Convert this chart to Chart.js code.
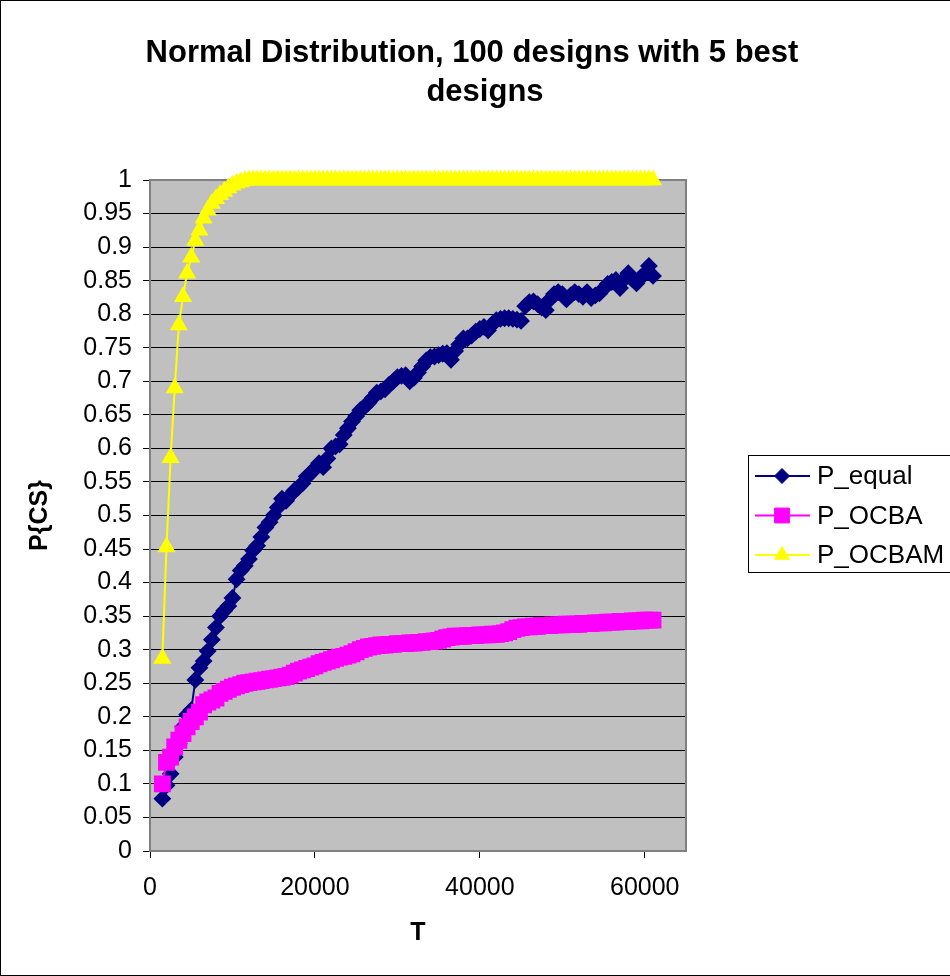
<!DOCTYPE html>
<html>
<head>
<meta charset="utf-8">
<title>Normal Distribution, 100 designs with 5 best designs</title>
<script src="https://cdn.jsdelivr.net/npm/chart.js@4.4.1/dist/chart.umd.min.js"></script>
<style>
  html, body { margin: 0; padding: 0; background: #fff; }
  #wrap { width: 950px; height: 976px; }
</style>
</head>
<body>
<div id="wrap"><canvas id="pcsChart" width="950" height="976"></canvas></div>
<script>
const titleLines = ['Normal Distribution, 100 designs with 5 best', 'designs'];

// simulation budget T
const tValues = [
    1500, 2000, 2500, 3000, 3500, 4000, 4500, 5000, 5500, 6000,
    6500, 7000, 7500, 8000, 8500, 9000, 9500, 10000, 10500, 11000,
    11500, 12000, 12500, 13000, 13500, 14000, 14500, 15000, 15500, 16000,
    16500, 17000, 17500, 18000, 18500, 19000, 19500, 20000, 20500, 21000,
    21500, 22000, 22500, 23000, 23500, 24000, 24500, 25000, 25500, 26000,
    26500, 27000, 27500, 28000, 28500, 29000, 29500, 30000, 30500, 31000,
    31500, 32000, 32500, 33000, 33500, 34000, 34500, 35000, 35500, 36000,
    36500, 37000, 37500, 38000, 38500, 39000, 39500, 40000, 40500, 41000,
    41500, 42000, 42500, 43000, 43500, 44000, 44500, 45000, 45500, 46000,
    46500, 47000, 47500, 48000, 48500, 49000, 49500, 50000, 50500, 51000,
    51500, 52000, 52500, 53000, 53500, 54000, 54500, 55000, 55500, 56000,
    56500, 57000, 57500, 58000, 58500, 59000, 59500, 60000, 60500, 61000
];

const pEqual = [
    0.078, 0.098, 0.115, 0.140, 0.160, 0.185, 0.203, 0.210, 0.255, 0.273,
    0.283, 0.298, 0.315, 0.333, 0.350, 0.358, 0.365, 0.377, 0.405, 0.418,
    0.425, 0.435, 0.448, 0.455, 0.468, 0.482, 0.490, 0.500, 0.512, 0.525,
    0.522, 0.530, 0.537, 0.542, 0.548, 0.558, 0.563, 0.570, 0.578, 0.572,
    0.585, 0.600, 0.603, 0.606, 0.620, 0.630, 0.640, 0.648, 0.657, 0.662,
    0.668, 0.675, 0.683, 0.685, 0.688, 0.695, 0.700, 0.706, 0.708, 0.709,
    0.700, 0.705, 0.713, 0.722, 0.731, 0.736, 0.737, 0.739, 0.741, 0.742,
    0.732, 0.745, 0.755, 0.764, 0.764, 0.768, 0.774, 0.778, 0.781, 0.776,
    0.785, 0.791, 0.793, 0.794, 0.794, 0.793, 0.792, 0.790, 0.812, 0.818,
    0.819, 0.815, 0.810, 0.806, 0.822, 0.830, 0.833, 0.830, 0.822, 0.828,
    0.833, 0.830, 0.826, 0.833, 0.824, 0.828, 0.831, 0.838, 0.845, 0.848,
    0.851, 0.839, 0.852, 0.861, 0.852, 0.846, 0.855, 0.860, 0.872, 0.857
];

const pOCBA = [
    0.100, 0.132, 0.140, 0.155, 0.165, 0.175, 0.185, 0.193, 0.200, 0.207,
    0.218, 0.222, 0.225, 0.228, 0.235, 0.238, 0.241, 0.244, 0.246, 0.248,
    0.250, 0.251, 0.252, 0.253, 0.254, 0.255, 0.256, 0.257, 0.258, 0.259,
    0.260, 0.262, 0.265, 0.268, 0.270, 0.272, 0.274, 0.276, 0.279, 0.281,
    0.283, 0.285, 0.287, 0.289, 0.290, 0.292, 0.294, 0.297, 0.300, 0.302,
    0.304, 0.305, 0.306, 0.307, 0.307, 0.308, 0.308, 0.309, 0.309, 0.309,
    0.310, 0.310, 0.311, 0.311, 0.312, 0.312, 0.313, 0.314, 0.316, 0.318,
    0.319, 0.320, 0.320, 0.320, 0.321, 0.321, 0.321, 0.322, 0.322, 0.322,
    0.323, 0.323, 0.324, 0.325, 0.327, 0.330, 0.332, 0.333, 0.334, 0.334,
    0.335, 0.335, 0.336, 0.336, 0.336, 0.337, 0.337, 0.337, 0.338, 0.338,
    0.338, 0.338, 0.339, 0.339, 0.339, 0.340, 0.340, 0.340, 0.341, 0.341,
    0.341, 0.342, 0.342, 0.342, 0.343, 0.343, 0.343, 0.344, 0.344, 0.344
];

const pOCBAM = [
    0.287, 0.453, 0.586, 0.690, 0.784, 0.826, 0.861, 0.885, 0.910, 0.925,
    0.943, 0.955, 0.965, 0.972, 0.978, 0.983, 0.988, 0.992, 0.995, 0.997,
    0.999, 1, 1, 1, 1, 1, 1, 1, 1, 1,
    1, 1, 1, 1, 1, 1, 1, 1, 1, 1,
    1, 1, 1, 1, 1, 1, 1, 1, 1, 1,
    1, 1, 1, 1, 1, 1, 1, 1, 1, 1,
    1, 1, 1, 1, 1, 1, 1, 1, 1, 1,
    1, 1, 1, 1, 1, 1, 1, 1, 1, 1,
    1, 1, 1, 1, 1, 1, 1, 1, 1, 1,
    1, 1, 1, 1, 1, 1, 1, 1, 1, 1,
    1, 1, 1, 1, 1, 1, 1, 1, 1, 1,
    1, 1, 1, 1, 1, 1, 1, 1, 1, 1
];

const xTicks = [0, 20000, 40000, 60000];
const yTicks = [0, 0.05, 0.1, 0.15, 0.2, 0.25, 0.3, 0.35, 0.4, 0.45, 0.5,
    0.55, 0.6, 0.65, 0.7, 0.75, 0.8, 0.85, 0.9, 0.95, 1];

const toPoints = values => tValues.map((t, i) => ({ x: t, y: values[i] }));

Chart.defaults.font.family = '"Liberation Sans", Arial, sans-serif';
Chart.defaults.color = '#000';

// grey plot area, its frame, the title, the boxed legend and the outer border
const excelLook = {
    id: 'excelLook',
    beforeDraw(chart) {
        const { ctx, chartArea: a } = chart;
        ctx.save();
        ctx.fillStyle = '#fff';
        ctx.fillRect(0, 0, chart.width, chart.height);
        ctx.fillStyle = '#C0C0C0';
        ctx.fillRect(a.left, a.top, a.right - a.left, a.bottom - a.top);
        ctx.restore();
    },
    beforeDatasetsDraw(chart) {
        const { ctx, chartArea: a } = chart;
        ctx.save();
        ctx.strokeStyle = '#808080';
        ctx.lineWidth = 2;
        ctx.strokeRect(a.left, a.top, a.right - a.left, a.bottom - a.top);
        ctx.restore();
    },
    afterDraw(chart) {
        const ctx = chart.ctx;
        ctx.save();

        // title (second line sits a little right, as in the original)
        ctx.fillStyle = '#000';
        ctx.textAlign = 'center';
        ctx.textBaseline = 'middle';
        ctx.font = 'bold 31px "Liberation Sans", Arial, sans-serif';
        ctx.fillText(titleLines[0], 472, 53);
        ctx.fillText(titleLines[1], 485, 92);

        // legend
        ctx.strokeStyle = '#000';
        ctx.lineWidth = 1;
        ctx.strokeRect(748.5, 455.5, 230, 117);
        ctx.font = '26px "Liberation Sans", Arial, sans-serif';
        ctx.textAlign = 'left';
        chart.data.datasets.forEach((ds, i) => {
            const y = 476 + i * 39.5;
            ctx.strokeStyle = ds.borderColor;
            ctx.lineWidth = ds.borderWidth;
            ctx.beginPath();
            ctx.moveTo(755, y);
            ctx.lineTo(810, y);
            ctx.stroke();
            ctx.fillStyle = ds.pointBackgroundColor;
            ctx.strokeStyle = ds.pointBorderColor;
            ctx.lineWidth = 1;
            Chart.helpers.drawPoint(ctx, { pointStyle: ds.pointStyle, radius: ds.pointRadius, borderWidth: 1, rotation: 0 }, 782, y);
            ctx.fillStyle = '#000';
            ctx.fillText(ds.label, 817, y + 1);
        });

        // chart border
        ctx.strokeStyle = '#000';
        ctx.lineWidth = 1;
        ctx.strokeRect(0.5, 0.5, chart.width + 5, chart.height - 1);
        ctx.restore();
    }
};

new Chart(document.getElementById('pcsChart'), {
    type: 'line',
    data: {
        datasets: [{
            label: 'P_equal',
            data: toPoints(pEqual),
            borderColor: '#000080',
            borderWidth: 2,
            pointStyle: 'rectRot',
            pointRadius: 7.5,
            pointBackgroundColor: '#000080',
            pointBorderColor: '#000080',
            order: 2
        }, {
            label: 'P_OCBA',
            data: toPoints(pOCBA),
            borderColor: '#FF00FF',
            borderWidth: 2,
            pointStyle: 'rect',
            pointRadius: 10.5,
            pointBackgroundColor: '#FF00FF',
            pointBorderColor: '#FF00FF',
            order: 1
        }, {
            label: 'P_OCBAM',
            data: toPoints(pOCBAM),
            borderColor: '#FFFF00',
            borderWidth: 2,
            pointStyle: 'triangle',
            pointRadius: 8.5,
            pointBackgroundColor: '#FFFF00',
            pointBorderColor: '#FFFF00',
            order: 0
        }]
    },
    options: {
        responsive: false,
        animation: false,
        clip: false,
        layout: { padding: { top: 180, right: 264, left: 0, bottom: 0 } },
        plugins: {
            legend: { display: false },
            title: { display: false },
            tooltip: { enabled: false }
        },
        elements: { line: { tension: 0 }, point: { borderWidth: 1 } },
        scales: {
            x: {
                type: 'linear',
                min: 0,
                max: 65000,
                afterBuildTicks: s => { s.ticks = xTicks.map(v => ({ value: v })); },
                afterFit: s => { s.height = 125; },
                grid: { drawOnChartArea: false, color: '#000', tickLength: 7 },
                border: { display: false },
                ticks: { font: { size: 25 }, padding: 15, maxRotation: 0, autoSkip: false, callback: v => String(v) },
                title: { display: true, text: 'T', font: { size: 25, weight: 'bold' }, padding: { top: 0, bottom: 28 } }
            },
            y: {
                min: 0,
                max: 1,
                afterBuildTicks: s => { s.ticks = yTicks.map(v => ({ value: v })); },
                afterFit: s => { s.width = 150; },
                grid: { color: '#000', tickLength: 7 },
                border: { display: false },
                ticks: { font: { size: 25 }, padding: 11, autoSkip: false, callback: v => String(v) },
                title: { display: true, text: 'P{CS}', font: { size: 25, weight: 'bold' }, padding: { top: 25, bottom: 0 } }
            }
        }
    },
    plugins: [excelLook]
});
</script>
</body>
</html>
